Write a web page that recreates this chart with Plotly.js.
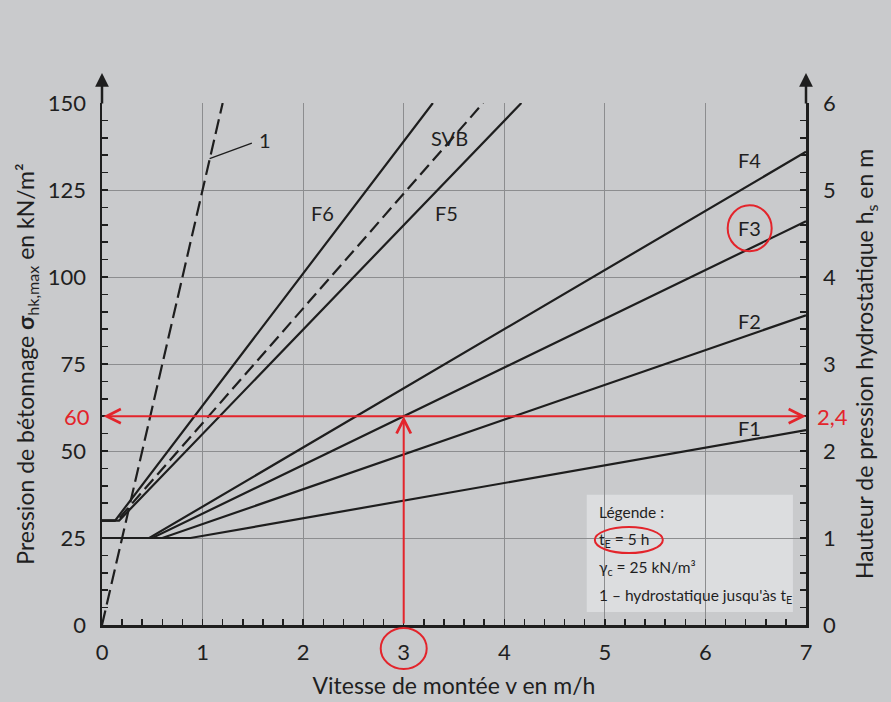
<!DOCTYPE html>
<html><head><meta charset="utf-8">
<script src="https://cdn.plot.ly/plotly-3.0.1.min.js"></script>
<style>html,body{margin:0;padding:0;background:#c9cacc;}</style>
</head><body><div id="chart" style="width:891px;height:702px;"></div>
<script>
// Data (v in m/h, sigma in kN/m²)
const vLine1 = [0, 1.2];        const sLine1 = [0, 150];
const vF1 = [0, 0.88, 7];       const sF1 = [25, 25, 56];
const vF2 = [0, 0.6, 7];        const sF2 = [25, 25, 89];
const vF3 = [0, 0.5, 7];        const sF3 = [25, 25, 116];
const vF4 = [0, 0.47, 7];       const sF4 = [25, 25, 136];
const vF5 = [0, 0.17, 4.17];    const sF5 = [30, 30, 150];
const vSVB = [0, 0.15, 3.79];   const sSVB = [30, 30, 150];
const vF6 = [0, 0.13, 3.29];    const sF6 = [30, 30, 150];

const labelNames = ['1', 'SVB', 'F6', 'F5', 'F4', 'F3', 'F2', 'F1'];
const labelV = [1.62, 3.46, 2.19, 3.43, 6.44, 6.44, 6.44, 6.44];
const labelS = [139.5, 140, 118.5, 118.5, 133.5, 114, 87.5, 56.5];

const markV = 3;       // example: v = 3 m/h
const markSigma = 60;  // -> 60 kN/m²
const markHs = '2,4';  // -> 2,4 m

const xTicks = [0, 1, 2, 3, 4, 5, 6, 7];
const yTicks = [0, 25, 50, 75, 100, 125, 150];
const y2Ticks = [0, 1, 2, 3, 4, 5, 6];

const legendLines = ['Légende :', 't<sub>E</sub> = 5 h', 'γ<sub>c</sub> = 25 kN/m³', '1 – hydrostatique jusqu\'às t<sub>E</sub>'];

const INK = '#1e1e1e';
const TXT = '#1f1f1f';
const RED = '#e3242b';
const FONT = 'Lato, "Open Sans", sans-serif';

function ln(x, y, dash) {
  return {x: x, y: y, type: 'scatter', mode: 'lines', hoverinfo: 'skip',
          line: {color: INK, width: 2.2, dash: dash || 'solid'}, showlegend: false};
}
const traces = [
  ln(vLine1, sLine1, '15px,6px'),
  ln(vF1, sF1), ln(vF2, sF2), ln(vF3, sF3), ln(vF4, sF4),
  ln(vF5, sF5), ln(vSVB, sSVB, '13px,6px'), ln(vF6, sF6),
  {x: [0, 7], y: [0, 6], yaxis: 'y2', type: 'scatter', mode: 'none', hoverinfo: 'skip', showlegend: false}
];

const annotations = [];
labelNames.forEach((t, i) => annotations.push({
  x: labelV[i], y: labelS[i], xref: 'x', yref: 'y', text: t, showarrow: false,
  font: {family: FONT, size: 20, color: TXT}
}));
// legend text
const legY = [32.5, 24.4, 16.4, 8.3];
legendLines.forEach((t, i) => annotations.push({
  x: 4.92, y: legY[i], xref: 'x', yref: 'y', text: t, showarrow: false, xanchor: 'left',
  font: {family: FONT, size: 15.5, color: TXT}
}));
// red tick labels
annotations.push({x: 0, y: markSigma, xref: 'paper', yref: 'y', text: String(markSigma), showarrow: false,
  xanchor: 'right', xshift: -10, font: {family: FONT, size: 22, color: RED}});
annotations.push({x: 1, y: markSigma, xref: 'paper', yref: 'y', text: markHs, showarrow: false,
  xanchor: 'left', xshift: 9, font: {family: FONT, size: 22, color: RED}});
// red arrows
annotations.push({x: 7, y: markSigma, ax: 0, ay: markSigma, xref: 'x', yref: 'y', axref: 'x', ayref: 'y',
  text: '', showarrow: true, arrowside: 'end+start', arrowhead: 5, arrowsize: 1.4, arrowwidth: 2, arrowcolor: RED});
annotations.push({x: markV, y: markSigma, ax: markV, ay: 0, xref: 'x', yref: 'y', axref: 'x', ayref: 'y',
  text: '', showarrow: true, arrowhead: 5, arrowsize: 1.4, arrowwidth: 2, arrowcolor: RED});
// axis arrows
annotations.push({x: 0, y: 1.0575, xref: 'paper', yref: 'paper', ax: 0, ay: 32, text: '', showarrow: true,
  arrowhead: 2, arrowsize: 1.1, arrowwidth: 2.5, arrowcolor: INK});
annotations.push({x: 1, y: 1.0575, xref: 'paper', yref: 'paper', ax: 0, ay: 32, text: '', showarrow: true,
  arrowhead: 2, arrowsize: 1.1, arrowwidth: 2.5, arrowcolor: INK});

const shapes = [
  // legend box
  {type: 'rect', xref: 'x', yref: 'y', x0: 4.82, x1: 6.87, y0: 3.7, y1: 37.4, fillcolor: '#dcdddf', line: {width: 0}, layer: 'below'},
  // leader line for "1"
  {type: 'line', xref: 'x', yref: 'y', x0: 1.07, y0: 134, x1: 1.49, y1: 138.5, line: {color: INK, width: 1.3}},
  // red circles
  {type: 'circle', xref: 'x', yref: 'paper', xsizemode: 'pixel', ysizemode: 'pixel', xanchor: markV, yanchor: 0,
   x0: -23, x1: 23, y0: -44, y1: -3, line: {color: RED, width: 2}},
  {type: 'circle', xref: 'x', yref: 'y', xsizemode: 'pixel', ysizemode: 'pixel', xanchor: 6.44, yanchor: 114,
   x0: -22, x1: 22, y0: -23, y1: 23, line: {color: RED, width: 2}},
  {type: 'circle', xref: 'x', yref: 'y', xsizemode: 'pixel', ysizemode: 'pixel', xanchor: 4.93, yanchor: 24.4,
   x0: -3, x1: 65, y0: -13, y1: 13, line: {color: RED, width: 2}}
];

const tickFont = {family: FONT, size: 22, color: TXT};
const layout = {
  width: 891, height: 702,
  margin: {l: 102, r: 85, t: 103, b: 77},
  paper_bgcolor: '#c9cacc', plot_bgcolor: '#c9cacc',
  showlegend: false,
  xaxis: {
    range: [0, 7], tickvals: xTicks, ticktext: xTicks.map(String), tickfont: tickFont,
    showgrid: true, gridcolor: '#8c8d8f', gridwidth: 1, zeroline: false,
    showline: true, linecolor: INK, linewidth: 2.5,
    ticks: 'inside', ticklen: 6, tickcolor: INK, tickwidth: 1.5, ticklabelstandoff: 6,
    minor: {dtick: 0.2, ticks: 'inside', ticklen: 6, tickcolor: INK, tickwidth: 1.5, showgrid: false},
    title: {text: 'Vitesse de montée v en m/h', font: {family: FONT, size: 23, color: TXT}, standoff: 14},
    fixedrange: true
  },
  yaxis: {
    range: [0, 150], tickvals: yTicks, ticktext: yTicks.map(String), tickfont: tickFont,
    showgrid: true, gridcolor: '#8c8d8f', gridwidth: 1, zeroline: false,
    showline: true, linecolor: INK, linewidth: 2.5,
    ticks: 'inside', ticklen: 6, tickcolor: INK, tickwidth: 1.5, ticklabelstandoff: 9,
    minor: {dtick: 5, ticks: 'inside', ticklen: 6, tickcolor: INK, tickwidth: 1.5, showgrid: false},
    title: {text: 'Pression de bétonnage <b>σ</b><sub>hk,max</sub> en kN/m²', font: {family: FONT, size: 23, color: TXT}, standoff: 7},
    fixedrange: true
  },
  yaxis2: {
    overlaying: 'y', side: 'right', range: [0, 6], tickvals: y2Ticks, ticktext: y2Ticks.map(String), tickfont: tickFont,
    showgrid: false, zeroline: false, showline: true, linecolor: INK, linewidth: 2.5,
    ticks: 'inside', ticklen: 6, tickcolor: INK, tickwidth: 1.5, ticklabelstandoff: 10,
    minor: {dtick: 0.2, ticks: 'inside', ticklen: 6, tickcolor: INK, tickwidth: 1.5, showgrid: false},
    title: {text: 'Hauteur de pression hydrostatique h<sub>s</sub> en m', font: {family: FONT, size: 23, color: TXT}, standoff: 22},
    fixedrange: true
  },
  annotations: annotations,
  shapes: shapes
};
Plotly.newPlot('chart', traces, layout, {displayModeBar: false, staticPlot: true});
</script></body></html>
